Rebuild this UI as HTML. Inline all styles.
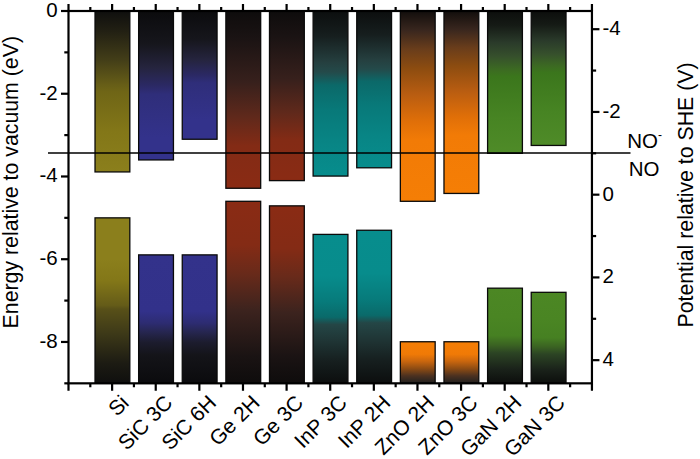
<!DOCTYPE html>
<html lang="en"><head><meta charset="utf-8"><title>Band edges</title>
<style>html,body{margin:0;padding:0;background:#fff}body{width:700px;height:459px;overflow:hidden}svg{display:block}text{font-family:"Liberation Sans",sans-serif;fill:#000}</style></head><body>
<svg width="700" height="459" viewBox="0 0 700 459">
<rect width="700" height="459" fill="#fff"/>
<defs>
<linearGradient id="siu" x1="0" y1="0" x2="0" y2="1"><stop offset="0" stop-color="#0f0f0e"/><stop offset="0.12" stop-color="#211f13"/><stop offset="0.3" stop-color="#423d18"/><stop offset="0.46" stop-color="#675e17"/><stop offset="0.5" stop-color="#6f6516"/><stop offset="0.75" stop-color="#837718"/><stop offset="1" stop-color="#8b7f1c"/></linearGradient>
<linearGradient id="sil" x1="0" y1="1" x2="0" y2="0"><stop offset="0" stop-color="#0f0f0e"/><stop offset="0.12" stop-color="#1c1b13"/><stop offset="0.3" stop-color="#3d3918"/><stop offset="0.45" stop-color="#585018"/><stop offset="0.47" stop-color="#645b18"/><stop offset="0.62" stop-color="#837718"/><stop offset="0.75" stop-color="#8b7f1c"/><stop offset="1" stop-color="#8b7f1c"/></linearGradient>
<linearGradient id="sicu" x1="0" y1="0" x2="0" y2="1"><stop offset="0" stop-color="#0b0b0d"/><stop offset="0.22" stop-color="#16161c"/><stop offset="0.38" stop-color="#25243e"/><stop offset="0.5" stop-color="#2b2964"/><stop offset="0.56" stop-color="#2f2e7a"/><stop offset="0.85" stop-color="#33328b"/><stop offset="1" stop-color="#33328b"/></linearGradient>
<linearGradient id="sicl" x1="0" y1="1" x2="0" y2="0"><stop offset="0" stop-color="#0b0b0d"/><stop offset="0.22" stop-color="#141419"/><stop offset="0.32" stop-color="#1c1c2e"/><stop offset="0.4" stop-color="#262650"/><stop offset="0.47" stop-color="#2d2c72"/><stop offset="0.56" stop-color="#32318a"/><stop offset="1" stop-color="#33328b"/></linearGradient>
<linearGradient id="geu" x1="0" y1="0" x2="0" y2="1"><stop offset="0" stop-color="#0e0c0c"/><stop offset="0.15" stop-color="#1a1313"/><stop offset="0.4" stop-color="#37201c"/><stop offset="0.6" stop-color="#60291b"/><stop offset="0.76" stop-color="#832b15"/><stop offset="1" stop-color="#8a2b14"/></linearGradient>
<linearGradient id="gel" x1="0" y1="1" x2="0" y2="0"><stop offset="0" stop-color="#0e0c0c"/><stop offset="0.15" stop-color="#1a1313"/><stop offset="0.4" stop-color="#3c231e"/><stop offset="0.6" stop-color="#682a1a"/><stop offset="0.76" stop-color="#842b15"/><stop offset="1" stop-color="#8a2b14"/></linearGradient>
<linearGradient id="inpu" x1="0" y1="0" x2="0" y2="1"><stop offset="0" stop-color="#0c0e0e"/><stop offset="0.15" stop-color="#161e1e"/><stop offset="0.31" stop-color="#253f3f"/><stop offset="0.37" stop-color="#244a4a"/><stop offset="0.45" stop-color="#0b6969"/><stop offset="0.6" stop-color="#087979"/><stop offset="0.8" stop-color="#088585"/><stop offset="1" stop-color="#078d8d"/></linearGradient>
<linearGradient id="inpl" x1="0" y1="1" x2="0" y2="0"><stop offset="0" stop-color="#0c0e0e"/><stop offset="0.15" stop-color="#161f1f"/><stop offset="0.28" stop-color="#1f3434"/><stop offset="0.395" stop-color="#244646"/><stop offset="0.445" stop-color="#0a6a6a"/><stop offset="0.55" stop-color="#077b7b"/><stop offset="0.72" stop-color="#078c8c"/><stop offset="1" stop-color="#078d8d"/></linearGradient>
<linearGradient id="znou" x1="0" y1="0" x2="0" y2="1"><stop offset="0" stop-color="#120e0c"/><stop offset="0.1" stop-color="#38261e"/><stop offset="0.2" stop-color="#693d1b"/><stop offset="0.3" stop-color="#8c4c10"/><stop offset="0.44" stop-color="#b95d11"/><stop offset="0.58" stop-color="#e06f08"/><stop offset="0.68" stop-color="#f27b06"/><stop offset="1" stop-color="#f57e05"/></linearGradient>
<linearGradient id="znol" x1="0" y1="1" x2="0" y2="0"><stop offset="0" stop-color="#221e1c"/><stop offset="0.05" stop-color="#2c2520"/><stop offset="0.18" stop-color="#4c3120"/><stop offset="0.35" stop-color="#8c4b13"/><stop offset="0.53" stop-color="#c9660e"/><stop offset="0.7" stop-color="#f07a06"/><stop offset="1" stop-color="#f57e05"/></linearGradient>
<linearGradient id="ganu" x1="0" y1="0" x2="0" y2="1"><stop offset="0" stop-color="#0c0e0c"/><stop offset="0.1" stop-color="#151a15"/><stop offset="0.22" stop-color="#2a3a2a"/><stop offset="0.32" stop-color="#36502c"/><stop offset="0.41" stop-color="#3c6a22"/><stop offset="0.46" stop-color="#3b761c"/><stop offset="0.75" stop-color="#478423"/><stop offset="1" stop-color="#4f8b28"/></linearGradient>
<linearGradient id="ganl" x1="0" y1="1" x2="0" y2="0"><stop offset="0" stop-color="#0c0e0c"/><stop offset="0.15" stop-color="#1a221a"/><stop offset="0.32" stop-color="#2c4424"/><stop offset="0.4" stop-color="#3a6222"/><stop offset="0.5" stop-color="#468022"/><stop offset="0.7" stop-color="#4a8523"/><stop offset="1" stop-color="#4c8724"/></linearGradient>
</defs>
<g stroke="#0a0a0a" stroke-width="1.3">
<rect x="95.02" y="11.00" width="34.80" height="160.93" fill="url(#siu)"/>
<rect x="95.02" y="217.85" width="34.80" height="165.48" fill="url(#sil)"/>
<rect x="138.64" y="11.00" width="34.80" height="148.93" fill="url(#sicu)"/>
<rect x="138.64" y="254.88" width="34.80" height="128.45" fill="url(#sicl)"/>
<rect x="182.26" y="11.00" width="34.80" height="128.25" fill="url(#sicu)"/>
<rect x="182.26" y="254.88" width="34.80" height="128.45" fill="url(#sicl)"/>
<rect x="225.88" y="11.00" width="34.80" height="177.27" fill="url(#geu)"/>
<rect x="225.88" y="201.30" width="34.80" height="182.03" fill="url(#gel)"/>
<rect x="269.50" y="11.00" width="34.80" height="169.62" fill="url(#geu)"/>
<rect x="269.50" y="205.85" width="34.80" height="177.48" fill="url(#gel)"/>
<rect x="313.12" y="11.00" width="34.80" height="165.07" fill="url(#inpu)"/>
<rect x="313.12" y="234.40" width="34.80" height="148.93" fill="url(#inpl)"/>
<rect x="356.74" y="11.00" width="34.80" height="156.79" fill="url(#inpu)"/>
<rect x="356.74" y="230.26" width="34.80" height="153.07" fill="url(#inpl)"/>
<rect x="400.36" y="11.00" width="34.80" height="190.30" fill="url(#znou)"/>
<rect x="400.36" y="341.75" width="34.80" height="41.58" fill="url(#znol)"/>
<rect x="443.98" y="11.00" width="34.80" height="182.44" fill="url(#znou)"/>
<rect x="443.98" y="341.75" width="34.80" height="41.58" fill="url(#znol)"/>
<rect x="487.60" y="11.00" width="34.80" height="142.31" fill="url(#ganu)"/>
<rect x="487.60" y="288.18" width="34.80" height="95.15" fill="url(#ganl)"/>
<rect x="531.22" y="11.00" width="34.80" height="134.45" fill="url(#ganu)"/>
<rect x="531.22" y="292.32" width="34.80" height="91.01" fill="url(#ganl)"/>
</g>
<g stroke="#000" stroke-width="2.2" fill="none" stroke-linecap="butt">
<rect x="68.50" y="11.00" width="523.44" height="372.33"/>
<path d="M68.50 11.00V4.00M68.50 383.33V390.83"/>
<path d="M90.31 11.00V7.00M90.31 383.33V387.33"/>
<path d="M112.12 11.00V4.00M112.12 383.33V390.83"/>
<path d="M133.93 11.00V7.00M133.93 383.33V387.33"/>
<path d="M155.74 11.00V4.00M155.74 383.33V390.83"/>
<path d="M177.55 11.00V7.00M177.55 383.33V387.33"/>
<path d="M199.36 11.00V4.00M199.36 383.33V390.83"/>
<path d="M221.17 11.00V7.00M221.17 383.33V387.33"/>
<path d="M242.98 11.00V4.00M242.98 383.33V390.83"/>
<path d="M264.79 11.00V7.00M264.79 383.33V387.33"/>
<path d="M286.60 11.00V4.00M286.60 383.33V390.83"/>
<path d="M308.41 11.00V7.00M308.41 383.33V387.33"/>
<path d="M330.22 11.00V4.00M330.22 383.33V390.83"/>
<path d="M352.03 11.00V7.00M352.03 383.33V387.33"/>
<path d="M373.84 11.00V4.00M373.84 383.33V390.83"/>
<path d="M395.65 11.00V7.00M395.65 383.33V387.33"/>
<path d="M417.46 11.00V4.00M417.46 383.33V390.83"/>
<path d="M439.27 11.00V7.00M439.27 383.33V387.33"/>
<path d="M461.08 11.00V4.00M461.08 383.33V390.83"/>
<path d="M482.89 11.00V7.00M482.89 383.33V387.33"/>
<path d="M504.70 11.00V4.00M504.70 383.33V390.83"/>
<path d="M526.51 11.00V7.00M526.51 383.33V387.33"/>
<path d="M548.32 11.00V4.00M548.32 383.33V390.83"/>
<path d="M570.13 11.00V7.00M570.13 383.33V387.33"/>
<path d="M591.94 11.00V4.00M591.94 383.33V390.83"/>
<path d="M68.50 11.00H61.00"/>
<path d="M68.50 52.37H64.30"/>
<path d="M68.50 93.74H61.00"/>
<path d="M68.50 135.11H64.30"/>
<path d="M68.50 176.48H61.00"/>
<path d="M68.50 217.85H64.30"/>
<path d="M68.50 259.22H61.00"/>
<path d="M68.50 300.59H64.30"/>
<path d="M68.50 341.96H61.00"/>
<path d="M68.50 383.33H64.30"/>
<path d="M591.94 29.20H599.44"/>
<path d="M591.94 70.57H596.14"/>
<path d="M591.94 111.94H599.44"/>
<path d="M591.94 153.31H596.14"/>
<path d="M591.94 194.68H599.44"/>
<path d="M591.94 236.05H596.14"/>
<path d="M591.94 277.42H599.44"/>
<path d="M591.94 318.79H596.14"/>
<path d="M591.94 360.16H599.44"/>
</g>
<path d="M48 153H630.5" stroke="#000" stroke-width="1.5" fill="none"/>
<g font-size="20.5" text-anchor="end">
<text x="57.70" y="17.00">0</text>
<text x="57.70" y="99.74">-2</text>
<text x="57.70" y="182.48">-4</text>
<text x="57.70" y="265.22">-6</text>
<text x="57.70" y="347.96">-8</text>
</g>
<g font-size="20.5" text-anchor="start">
<text x="602.50" y="35.20">-4</text>
<text x="602.50" y="117.94">-2</text>
<text x="602.50" y="200.68">0</text>
<text x="602.50" y="283.42">2</text>
<text x="602.50" y="366.16">4</text>
</g>
<g font-size="21" text-anchor="end">
<text transform="translate(130.12 404.13) rotate(-45)">Si</text>
<text transform="translate(173.74 404.13) rotate(-45)">SiC 3C</text>
<text transform="translate(217.36 404.13) rotate(-45)">SiC 6H</text>
<text transform="translate(260.98 404.13) rotate(-45)">Ge 2H</text>
<text transform="translate(304.60 404.13) rotate(-45)">Ge 3C</text>
<text transform="translate(348.22 404.13) rotate(-45)">InP 3C</text>
<text transform="translate(391.84 404.13) rotate(-45)">InP 2H</text>
<text transform="translate(435.46 404.13) rotate(-45)">ZnO 2H</text>
<text transform="translate(479.08 404.13) rotate(-45)">ZnO 3C</text>
<text transform="translate(522.70 404.13) rotate(-45)">GaN 2H</text>
<text transform="translate(566.32 404.13) rotate(-45)">GaN 3C</text>
</g>
<text x="627.3" y="148.0" font-size="20.5">NO<tspan font-size="12" dy="-9.5">-</tspan></text>
<text x="628.8" y="176.3" font-size="20.5">NO</text>
<text transform="translate(17.6 182.2) rotate(-90)" font-size="21.3" text-anchor="middle">Energy relative to vacuum (eV)</text>
<text transform="translate(693.3 195) rotate(-90)" font-size="21.3" text-anchor="middle">Potential relative to SHE (V)</text>
</svg></body></html>
